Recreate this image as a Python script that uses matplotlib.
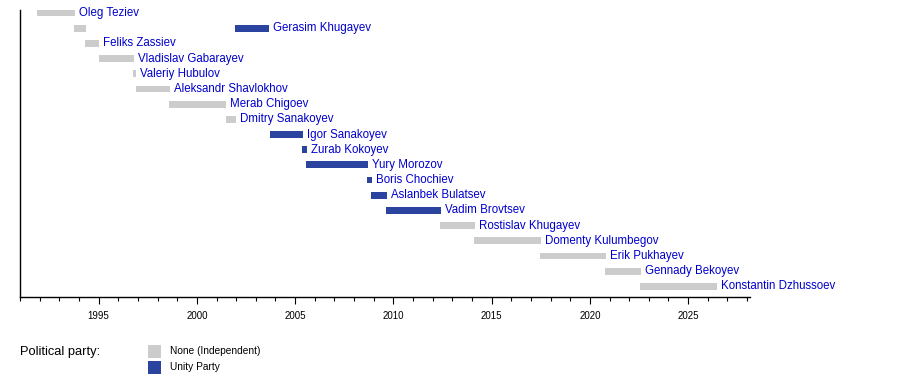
import matplotlib
matplotlib.use('agg')
from matplotlib import pyplot
from matplotlib import rcParams
from matplotlib.ticker import MultipleLocator
from matplotlib.patches import Rectangle

rcParams['font.family'] = ['Liberation Sans', 'DejaVu Sans']

# one row per prime minister (start year, end year as decimals)
names = ['Oleg Teziev', 'Gerasim Khugayev', 'Feliks Zassiev', 'Vladislav Gabarayev',
         'Valeriy Hubulov', 'Aleksandr Shavlokhov', 'Merab Chigoev', 'Dmitry Sanakoyev',
         'Igor Sanakoyev', 'Zurab Kokoyev', 'Yury Morozov', 'Boris Chochiev',
         'Aslanbek Bulatsev', 'Vadim Brovtsev', 'Rostislav Khugayev', 'Domenty Kulumbegov',
         'Erik Pukhayev', 'Gennady Bekoyev', 'Konstantin Dzhussoev']
starts = [1991.87, 2001.94, 1994.30, 1995.00, 1996.75, 1996.90, 1998.58, 2001.48,
          2003.72, 2005.35, 2005.55, 2008.66, 2008.86, 2009.63, 2012.37, 2014.10,
          2017.46, 2020.77, 2022.55]
ends = [1993.80, 2003.67, 1995.00, 1996.80, 1996.90, 1998.63, 2001.48, 2002.00,
        2005.40, 2005.60, 2008.70, 2008.91, 2009.68, 2012.42, 2014.15, 2017.50,
        2020.82, 2022.60, 2026.47]
parties = ['None', 'Unity', 'None', 'None', 'None', 'None', 'None', 'None',
           'Unity', 'Unity', 'Unity', 'Unity', 'Unity', 'Unity', 'None', 'None',
           'None', 'None', 'None']

# Khugayev's first (unlabelled) term, drawn on his row
extra_row = 1
extra_start = 1993.75
extra_end = 1994.36
extra_party = 'None'

colors = {'None': '#cccccc', 'Unity': '#2a44a0'}
legend_labels = ['None (Independent)', 'Unity Party']

fig = pyplot.figure(figsize=(9, 3.78), dpi=100)
ax = fig.add_axes([20/900, 1-297/378, 730/900, 287/378])

bar_h = 0.45
for i, name in enumerate(names):
  ax.barh(i, ends[i]-starts[i], left=starts[i], height=bar_h, color=colors[parties[i]])
  ax.text(ends[i]+0.2, i, name, color='#0000cc', fontsize=8.3, va='center', ha='left')
ax.barh(extra_row, extra_end-extra_start, left=extra_start, height=bar_h, color=colors[extra_party])

ax.set_xlim(1991, 2028.15)
ax.set_ylim(18.7, -0.2)
ax.set_yticks([])
ax.xaxis.set_major_locator(MultipleLocator(5))
ax.xaxis.set_minor_locator(MultipleLocator(1))
ax.tick_params(axis='x', which='major', length=5, width=0.8, labelsize=7, pad=5, color='black')
ax.tick_params(axis='x', which='minor', length=3, width=0.8, color='black')
for s in ['top', 'right']:
  ax.spines[s].set_visible(False)
for s in ['left', 'bottom']:
  ax.spines[s].set_linewidth(1.0)

fig.text(20/900, 1-352/378, 'Political party:', fontsize=9.3, va='center', ha='left')
for k, key in enumerate(['None', 'Unity']):
  y0 = 1-(358+16*k)/378
  fig.patches.append(Rectangle((148/900, y0), 13/900, 13/378, transform=fig.transFigure,
                               facecolor=colors[key], edgecolor='none'))
  fig.text(170/900, y0+6.5/378, legend_labels[k], fontsize=7.3, va='center', ha='left')

fig.savefig('out.png', dpi=100)
pyplot.close(fig)
